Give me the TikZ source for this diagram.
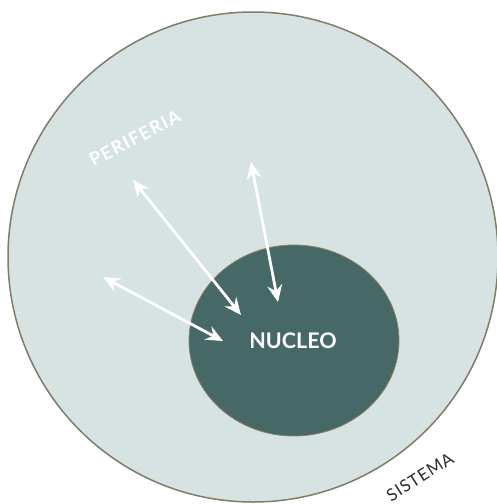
\documentclass[tikz,border=0pt]{standalone}
\usepackage{fontspec}
\setmainfont{Lato}
\usetikzlibrary{arrows.meta,shapes.geometric}
\definecolor{perif}{HTML}{D6E3E2}
\definecolor{rim}{HTML}{7E7D66}
\definecolor{nucl}{HTML}{466866}
\definecolor{nuclrim}{HTML}{8C7E60}
\definecolor{sistc}{HTML}{2E2E2E}
\tikzset{
  dbl/.style={white, line width=2.8pt, {Stealth[length=17pt,width=15pt,inset=6pt]}-{Stealth[length=17pt,width=15pt,inset=6pt]}},
  lbl/.style={inner sep=0pt, anchor=center}
}
\begin{document}
\begin{tikzpicture}[x=1pt,y=-1pt]
\useasboundingbox[fill=white] (0,0) rectangle (497,504);
\node[circle, draw=rim, line width=1.5pt, fill=perif, minimum size=490pt, inner sep=0pt] (sistema) at (253,257) {};
\node[ellipse, draw=nuclrim, line width=0.8pt, fill=nucl, minimum width=210pt, minimum height=191pt, inner sep=0pt] (nucleo) at (294,340.5) {};
\node[lbl, text=white] (nucleotxt) at (293,341) {\fontsize{21.5}{21.5}\selectfont\bfseries NUCLEO};
\node[lbl, text=white, rotate=27.5] (periferia) at (135,138) {\fontsize{18}{18}\selectfont\bfseries\addfontfeature{LetterSpace=8}PERIFERIA};
\node[lbl, text=sistc, rotate=32.5] (sistemalbl) at (420,477) {\fontsize{17}{17}\selectfont\addfontfeature{LetterSpace=5}SISTEMA};
\coordinate (a1) at (133,180);
\coordinate (b1) at (241,315);
\coordinate (a2) at (251,162);
\coordinate (b2) at (278,302);
\coordinate (a3) at (103,277);
\coordinate (b3) at (223,341);
\draw[dbl] (a1) -- (b1);
\draw[dbl] (a2) -- (b2);
\draw[dbl] (a3) -- (b3);
\end{tikzpicture}
\end{document}
